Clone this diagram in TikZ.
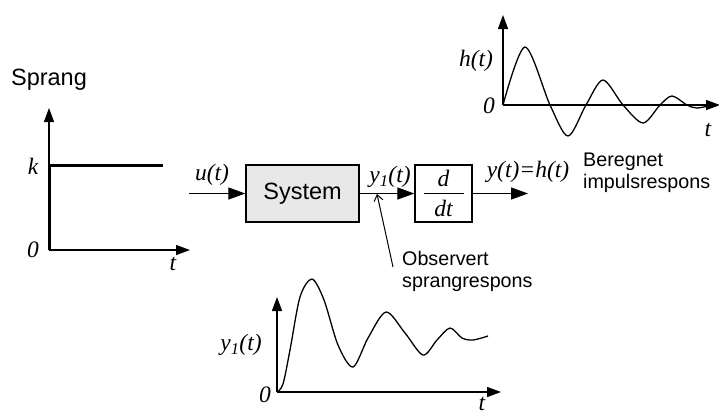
\documentclass[tikz,border=0pt]{standalone}
\usepackage{fontspec}
\setmainfont{Liberation Serif}
\setsansfont{Liberation Sans}
\usetikzlibrary{arrows.meta,positioning}
\tikzset{
  eje/.style={line width=1.3pt,-{Triangle[length=14pt,width=10pt]}},
  flecha/.style={line width=1.3pt,-{Triangle[length=17pt,width=12pt]}},
  bloque/.style={draw,line width=1.4pt,minimum height=57pt,inner sep=0pt},
  etiq/.style={font=\fontsize{23.5}{26}\selectfont\itshape,inner sep=0pt},
  rotulo/.style={font=\fontsize{23.5}{26}\selectfont\sffamily,inner sep=0pt},
  nota/.style={font=\fontsize{19.7}{22}\selectfont\sffamily,align=left,inner sep=0pt},
  curva/.style={line width=1.3pt,smooth}
}
\begin{document}
\begin{tikzpicture}[x=1pt,y=-1pt]
    \useasboundingbox (0,0) rectangle (719,416);

    % Entrada escalon
    \node[rotulo] (sprang) at (49,80) {Sprang};
    \coordinate (o1) at (49,250);
    \coordinate (top1) at (49,108);
    \coordinate (end1) at (190,250);
    \draw[eje] (o1) -- (top1);
    \draw[eje] (o1) -- (end1);
    \draw[line width=3pt] (o1) -- (49,165) -- (163,165);
    \node[etiq] (k) at (33,166) {k};
    \node[etiq] (n1) at (33,250) {0};
    \node[etiq] (t1) at (173,264) {t};

    % Diagrama de bloques
    \node[bloque, fill=gray!18, minimum width=113pt, rotulo] (sys) at (302.5,193.5) {System};
    \node[bloque, minimum width=57pt, etiq] (deriv) at (443.5,193.5)
        {$\displaystyle\frac{\hbox to 40pt{\hss\lower4pt\hbox{\textit{d}}\hss}}{\textit{dt}}$};
    \coordinate (uin) at (189,193.5);
    \coordinate (yout) at (528,193.5);
    \draw[flecha] (uin) -- (sys);
    \draw[flecha] (sys) -- (deriv);
    \draw[flecha] (deriv) -- (yout);
    \node[etiq] (ulab) at (212,175) {u(t)};
    \node[etiq] (y1lab) at (390,177) {y\textsubscript{1}(t)};
    \node[etiq] (ylab) at (528,172) {y(t)=h(t)};
    \node[nota, anchor=west] (ber) at (583,173) {Beregnet\\impulsrespons};

    % Respuesta observada
    \node[nota, anchor=north west] (obs) at (402,251) {Observert\\sprangrespons};
    \coordinate (pstart) at (393,267);
    \coordinate (ptip) at (377,194);
    \draw[line width=1pt, -{Straight Barb[length=6pt,width=9pt]}] (pstart) -- (ptip);

    % Respuesta al impulso
    \coordinate (o2) at (503,105);
    \coordinate (top2) at (503,15);
    \coordinate (end2) at (720,105);
    \draw[eje] (o2) -- (top2);
    \draw[eje] (o2) -- (end2);
    \draw[curva] plot coordinates {(503,105) (525,47) (550,105) (568,136) (586,105)
        (603,80) (623,105) (643,123) (660,105) (672,96) (687,105) (697,108) (713,105)};
    \node[etiq] (hlab) at (476,61) {h(t)};
    \node[etiq] (n2) at (489,106) {0};
    \node[etiq] (t2) at (708,130) {t};

    % Respuesta al escalon
    \coordinate (o3) at (277,392);
    \coordinate (top3) at (277,297);
    \coordinate (end3) at (501,392);
    \draw[eje] (o3) -- (top3);
    \draw[eje] (o3) -- (end3);
    \draw[curva] plot coordinates {(277,392) (283,384) (290,350) (300,297) (312,279)
        (324,300) (338,345) (353,367) (368,338) (386,312) (405,333) (423,355)
        (437,340) (450,328) (462,338) (473,340) (488,336)};
    \node[etiq] (y1plot) at (241,345) {y\textsubscript{1}(t)};
    \node[etiq] (n3) at (265,395) {0};
    \node[etiq] (t3) at (482,404) {t};
\end{tikzpicture}
\end{document}
